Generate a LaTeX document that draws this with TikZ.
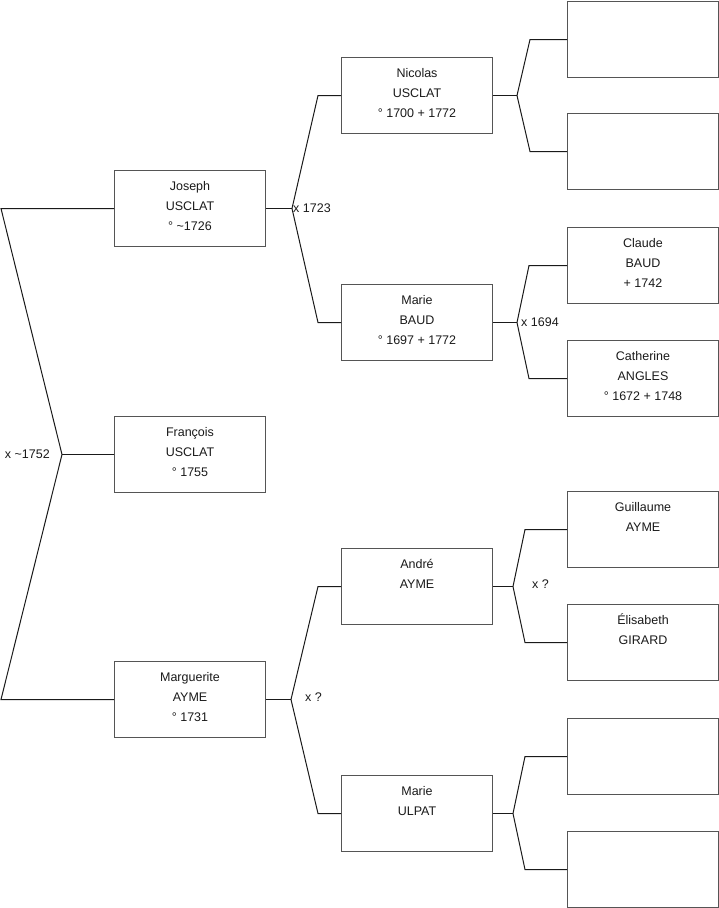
\documentclass[tikz,border=0pt]{standalone}
\usepackage{fontspec}
\setmainfont{Liberation Sans}
\definecolor{boxline}{HTML}{555555}
\definecolor{conn}{HTML}{1A1A1A}
\definecolor{txt}{HTML}{1A1A1A}
\newcommand{\famtext}[1]{\parbox[c][76pt][t]{151pt}{\centering\rule{0pt}{20pt}#1}}
\begin{document}
\begin{tikzpicture}[x=1pt,y=-1pt,
  person/.style={draw=boxline, line width=1pt, fill=white, inner sep=0pt,
    minimum width=151pt, minimum height=76pt, anchor=north west,
    font=\fontsize{12.5}{20}\selectfont, text=txt},
  conline/.style={draw=conn, line width=1pt},
  marr/.style={inner sep=0pt, font=\fontsize{12.5}{14}\selectfont, text=txt}]
\useasboundingbox (0,0) rectangle (719,908);
% generation 1
\node[person] (joseph) at (114,170) {\famtext{Joseph\\USCLAT\\° \textasciitilde1726}};
\node[person] (francois) at (114,416) {\famtext{François\\USCLAT\\° 1755}};
\node[person] (marguerite) at (114,661) {\famtext{Marguerite\\AYME\\° 1731}};
% generation 2
\node[person] (nicolas) at (341,57) {\famtext{Nicolas\\USCLAT\\° 1700 + 1772}};
\node[person] (marieb) at (341,284) {\famtext{Marie\\BAUD\\° 1697 + 1772}};
\node[person] (andre) at (341,548) {\famtext{André\\AYME}};
\node[person] (marieu) at (341,775) {\famtext{Marie\\ULPAT}};
% generation 3
\node[person] (r1) at (567,1) {};
\node[person] (r2) at (567,113) {};
\node[person] (claude) at (567,227) {\famtext{Claude\\BAUD\\+ 1742}};
\node[person] (catherine) at (567,340) {\famtext{Catherine\\ANGLES\\° 1672 + 1748}};
\node[person] (guillaume) at (567,491) {\famtext{Guillaume\\AYME}};
\node[person] (elisabeth) at (567,604) {\famtext{Élisabeth\\GIRARD}};
\node[person] (r7) at (567,718) {};
\node[person] (r8) at (567,831) {};
% root fork
\path (joseph.west) -- ++(-113,0) coordinate (rt);
\path (marguerite.west) -- ++(-113,0) coordinate (rb);
\path (francois.west) -- ++(-52,0) coordinate (fr);
\draw[conline] (joseph.west) -- (rt) -- (fr) -- (rb) -- (marguerite.west);
\draw[conline] (fr) -- (francois.west);
\node[marr, anchor=east] (m1752) at ([xshift=-12pt]fr) {x \textasciitilde1752};
% forks
\foreach \pp/\fo/\up/\dn/\ex in {joseph/26/nicolas/marieb/23, marguerite/25/andre/marieu/23,
    nicolas/24/r1/r2/37, marieb/24/claude/catherine/38,
    andre/20/guillaume/elisabeth/42, marieu/20/r7/r8/42}{
  \path (\pp.east) -- ++(\fo,0) coordinate (f-\pp);
  \draw[conline] (\pp.east) -- (f-\pp);
  \draw[conline] (\up.west) -- ++(-\ex,0) -- (f-\pp) -- ([xshift=-\ex pt]\dn.west) -- (\dn.west);
}
\node[marr, anchor=west] (m1723) at ([xshift=1pt]f-joseph) {x 1723};
\node[marr, anchor=west] (m1694) at ([xshift=4pt]f-marieb) {x 1694};
\node[marr, anchor=west] (mandre) at ([xshift=19pt,yshift=2pt]f-andre) {x ?};
\node[marr, anchor=west] (mmarg) at ([xshift=14pt,yshift=2pt]f-marguerite) {x ?};
\end{tikzpicture}
\end{document}
